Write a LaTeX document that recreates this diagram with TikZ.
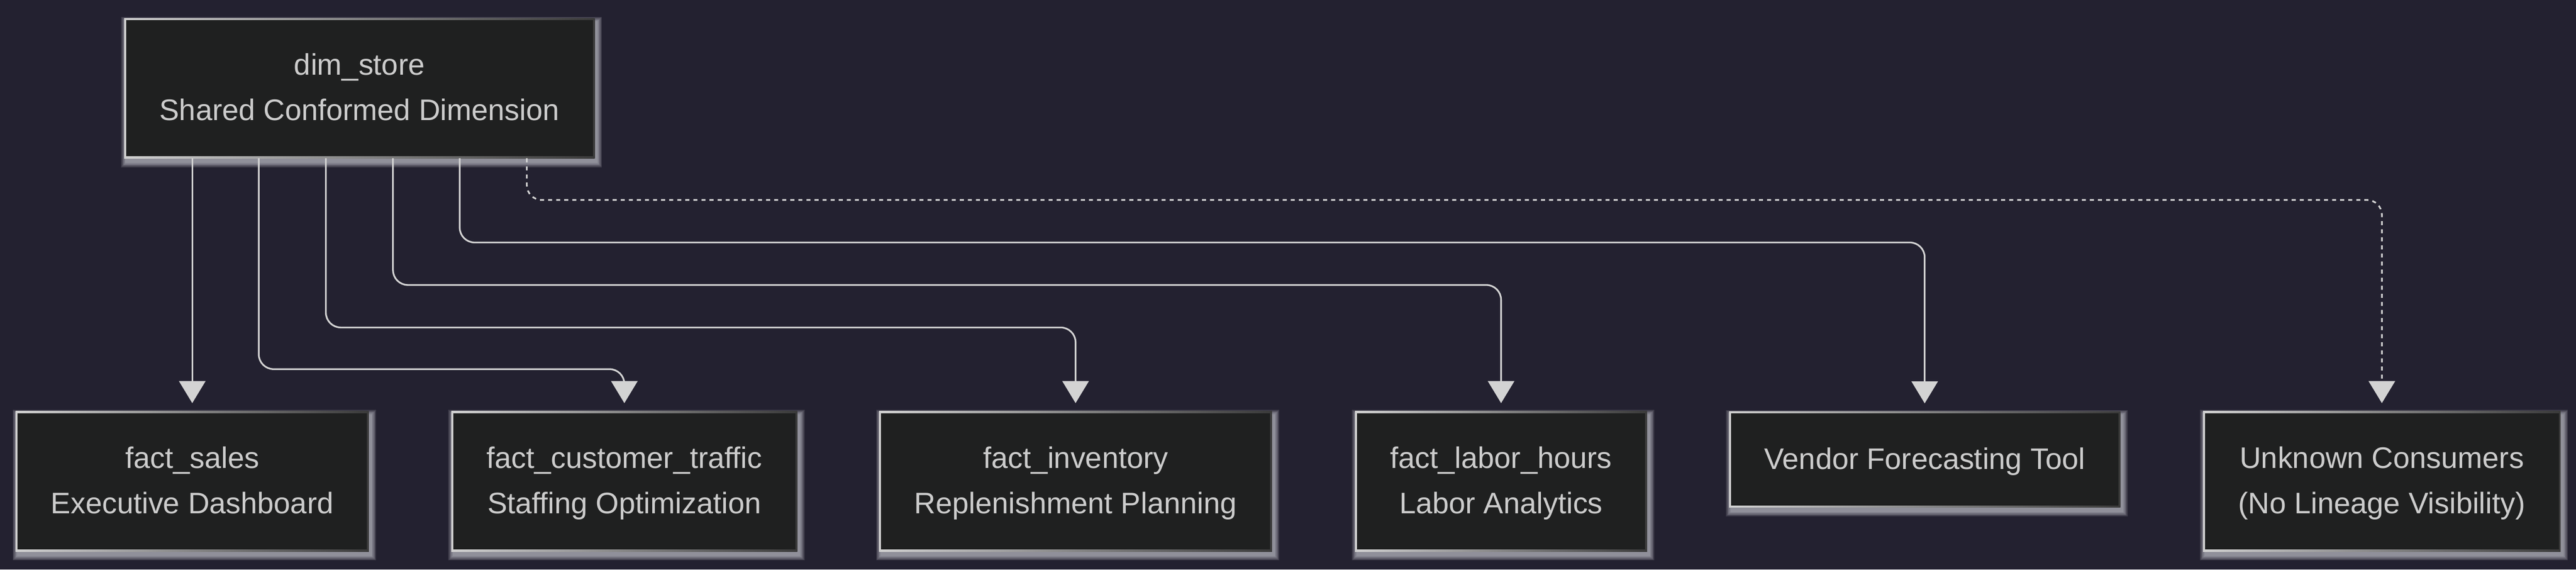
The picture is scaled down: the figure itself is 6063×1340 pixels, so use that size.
\documentclass[tikz,border=0pt]{standalone}
\usepackage{fontspec}
\setmainfont{Liberation Sans}
\usetikzlibrary{arrows.meta}
\definecolor{bgcol}{HTML}{232130}
\definecolor{boxfill}{HTML}{1F2020}
\definecolor{bordL}{HTML}{D0D0D0}
\definecolor{bordR}{HTML}{3A3A3A}
\definecolor{txtcol}{HTML}{CCCCCC}
\definecolor{linecol}{HTML}{D3D3D3}
\definecolor{glowcol}{HTML}{E8E8F0}
\pgfdeclarelayer{back}
\pgfdeclarelayer{mid}
\pgfsetlayers{back,mid,main}
\newcommand\lnstrut{\rule[-2pt]{0pt}{8.5pt}}
\begin{document}
\begin{tikzpicture}[x=0.1pt,y=-0.1pt,
  box/.style={align=center, text=txtcol, font=\fontsize{7pt}{10.6pt}\selectfont,
    inner xsep=8.3pt, inner ysep=0pt, outer sep=0pt, minimum height=33pt},
  conn/.style={draw=linecol, line width=0.4pt, rounded corners=3.5pt,
    -{Triangle[width=6.2pt,length=5.2pt]}},
  dashconn/.style={conn, dash pattern=on 0.95pt off 0.95pt},
  glowrect/.style={fill=glowcol, opacity=0.13}]
\useasboundingbox (0,0) rectangle (6063,1340);
\begin{pgfonlayer}{back}
  \fill[bgcol] (0,0) rectangle (6063,1340);
\end{pgfonlayer}

\node[box] (dim) at (846,207.5) {\lnstrut dim\_store\\\lnstrut Shared Conformed Dimension};
\node[box] (fs)  at (452.5,1132.5) {\lnstrut fact\_sales\\\lnstrut Executive Dashboard};
\node[box] (fct) at (1469.5,1132.5) {\lnstrut fact\_customer\_traffic\\\lnstrut Staffing Optimization};
\node[box] (fi)  at (2531.5,1132.5) {\lnstrut fact\_inventory\\\lnstrut Replenishment Planning};
\node[box] (flh) at (3533,1132.5) {\lnstrut fact\_labor\_hours\\\lnstrut Labor Analytics};
\node[box, minimum height=22.6pt] (vft) at (4530,1081) {\lnstrut Vendor Forecasting Tool};
\node[box] (uc)  at (5606,1132.5) {\lnstrut Unknown Consumers\\\lnstrut (No Lineage Visibility)};

\begin{pgfonlayer}{mid}
  \foreach \n in {dim,fs,fct,fi,flh,vft,uc} {
    \foreach \r in {0.2,0.4,0.6,0.8,1.0,1.2} {
      \fill[glowrect] ([shift={(0.5pt-\r pt,-0.9pt-\r pt)}]\n.south west)
        rectangle ([shift={(0.5pt+\r pt,-0.9pt+\r pt)}]\n.north east);
    }
    \shade[left color=bordL, right color=bordR] (\n.south west) rectangle (\n.north east);
    \fill[boxfill] ([shift={(0.45pt,0.45pt)}]\n.south west) rectangle ([shift={(-0.45pt,-0.45pt)}]\n.north east);
  }
\end{pgfonlayer}

\draw[conn] (fs.north |- dim.south) -- ([yshift=1.9pt]fs.north);
\draw[conn] ([xshift=-23.7pt]dim.south) -- ++(0,496) -| ([yshift=1.9pt]fct.north);
\draw[conn] ([xshift=-7.9pt]dim.south) -- ++(0,398) -| ([yshift=1.9pt]fi.north);
\draw[conn] ([xshift=7.9pt]dim.south) -- ++(0,298) -| ([yshift=1.9pt]flh.north);
\draw[conn] ([xshift=23.6pt]dim.south) -- ++(0,198) -| ([yshift=1.9pt]vft.north);
\draw[dashconn] ([xshift=39.4pt]dim.south) -- ++(0,98) -| ([yshift=1.9pt]uc.north);
\end{tikzpicture}
\end{document}
